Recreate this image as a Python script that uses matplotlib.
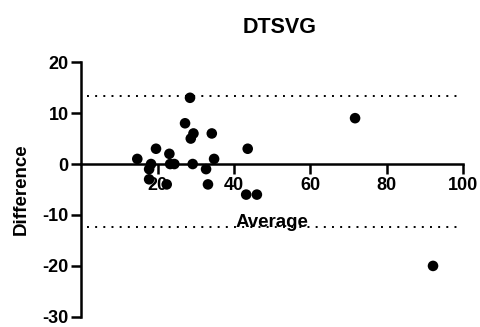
"""
Bland-Altman style difference plot for DTSVG.
"""
import numpy as np
import matplotlib
matplotlib.use("Agg")
import matplotlib.pyplot as plt

plt.rcParams["font.family"] = ["Liberation Sans", "DejaVu Sans"]
plt.rcParams["font.weight"] = "bold"
plt.rcParams["axes.unicode_minus"] = False

# values
average = [28.5, 27.2, 29.4, 28.7, 34.2, 43.6, 19.6, 23.1, 14.7, 34.8,
           18.3, 23.3, 24.4, 29.2, 17.8, 32.7, 17.8, 22.4, 33.2, 43.2,
           46.0, 71.7, 92.1]
difference = [13, 8, 6, 5, 6, 3, 3, 2, 1, 1,
              0, 0, 0, 0, -1, -1, -3, -4, -4, -6,
              -6, 9, -20]
upper_loa = 13.3
lower_loa = -12.4
xticks = [20, 40, 60, 80, 100]
yticks = [-30, -20, -10, 0, 10, 20]

fig = plt.figure(figsize=(4.8, 3.27), dpi=100)
ax = fig.add_axes([0.169, 0.031, 0.796, 0.779])

ax.scatter(average, difference, s=58, color="black", edgecolor="none", zorder=3)
for v in (upper_loa, lower_loa):
    ax.plot([1.5, 98.5], [v, v], color="black", lw=1.4, ls=(0, (1, 3.2)), zorder=2)

ax.set_xlim(0, 100)
ax.set_ylim(-30, 20)
ax.set_xticks(xticks)
ax.set_yticks(yticks)
ax.spines["top"].set_visible(False)
ax.spines["right"].set_visible(False)
ax.spines["bottom"].set_position(("data", 0))
for s in ("left", "bottom"):
    ax.spines[s].set_linewidth(1.8)
ax.tick_params(width=1.8, length=7, labelsize=13, pad=2)
for lab in ax.get_xticklabels() + ax.get_yticklabels():
    lab.set_fontweight("bold")

ax.set_xlabel("Average", fontsize=13.5, fontweight="bold", labelpad=15)
ax.set_ylabel("Difference", fontsize=13.5, fontweight="bold", labelpad=9)
ax.set_title("DTSVG", fontsize=15.5, fontweight="bold", pad=21, x=0.52)

fig.savefig("out.png", dpi=100)
